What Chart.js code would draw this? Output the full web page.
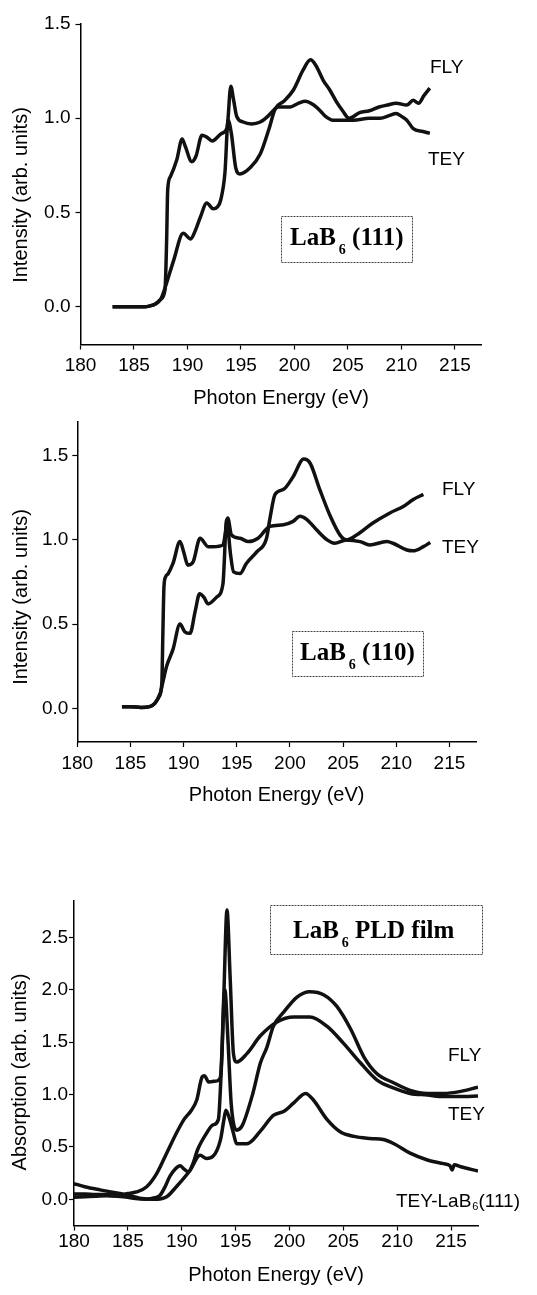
<!DOCTYPE html>
<html>
<head>
<meta charset="utf-8">
<title>LaB6 boron K-edge spectra</title>
<script src="https://cdn.jsdelivr.net/npm/chart.js@4.4.1/dist/chart.umd.min.js"></script>
<style>
  html, body { margin: 0; padding: 0; background: #fff; }
  body { width: 537px; height: 1295px; position: relative; overflow: hidden; }
  canvas { position: absolute; left: 0; }
</style>
</head>
<body>
<canvas id="c111" width="537" height="420" style="top:0"></canvas>
<canvas id="c110" width="537" height="440" style="top:420px"></canvas>
<canvas id="cFilm" width="537" height="435" style="top:860px"></canvas>

<script>
// LaB6 (111) single crystal
const tey111E = [183, 184, 185, 186, 186.5, 187, 187.5, 187.9, 188.05, 188.15, 188.4, 189.0, 189.5, 189.8, 190.4, 190.8, 191.35, 191.8, 192.3, 193.2, 193.7, 194.05, 194.3, 194.6, 195.2, 196.0, 196.8, 197.5, 198.0, 198.5, 199.6, 200.4, 201.0, 201.8, 202.4, 202.9, 203.6, 204.9, 205.5, 207.0, 208.0, 208.9, 209.5, 210.0, 210.5, 211.1, 212.0, 212.65];
const tey111I = [0.0, 0.0, 0.0, 0.0, 0.005, 0.015, 0.04, 0.09, 0.35, 0.62, 0.69, 0.78, 0.89, 0.85, 0.77, 0.80, 0.91, 0.90, 0.88, 0.92, 0.95, 1.17, 1.10, 1.01, 0.98, 0.97, 0.98, 1.01, 1.04, 1.06, 1.06, 1.08, 1.09, 1.07, 1.04, 1.01, 0.99, 0.99, 0.99, 1.0, 1.0, 1.015, 1.025, 1.01, 0.99, 0.945, 0.93, 0.92];
const fly111E = [183, 184, 185, 186, 186.5, 187.0, 187.5, 187.9, 188.7, 189.6, 190.3, 190.7, 191.2, 191.8, 192.4, 192.8, 193.1, 193.5, 193.8, 194.1, 194.5, 194.9, 195.9, 196.8, 197.6, 198.2, 199.0, 199.9, 200.8, 201.5, 202.0, 202.7, 203.3, 203.9, 204.5, 205.1, 206.1, 207.0, 207.9, 208.7, 209.5, 210.5, 211.1, 211.6, 212.1, 212.65];
const fly111I = [0.0, 0.0, 0.0, 0.0, 0.005, 0.015, 0.04, 0.10, 0.245, 0.39, 0.36, 0.40, 0.475, 0.55, 0.52, 0.53, 0.565, 0.71, 0.99, 0.92, 0.74, 0.705, 0.74, 0.81, 0.94, 1.05, 1.09, 1.15, 1.255, 1.31, 1.28, 1.20, 1.15, 1.09, 1.04, 1.0, 1.03, 1.04, 1.06, 1.07, 1.08, 1.07, 1.095, 1.08, 1.12, 1.16];

// LaB6 (110) single crystal
const tey110E = [184.2, 185, 186, 186.8, 187.3, 187.7, 187.95, 188.05, 188.15, 188.3, 188.55, 189.0, 189.66, 190.0, 190.4, 190.9, 191.55, 192.3, 192.8, 193.7, 193.95, 194.15, 194.5, 195.3, 196.1, 197.0, 198.1, 199.4, 200.3, 200.95, 201.6, 202.5, 203.5, 204.2, 205.3, 206.6, 207.5, 209.1, 209.7, 211.0, 211.6, 212.55, 213.2];
const tey110I = [0.01, 0.01, 0.005, 0.01, 0.03, 0.07, 0.15, 0.45, 0.72, 0.78, 0.80, 0.86, 0.99, 0.93, 0.85, 0.87, 1.01, 0.96, 0.96, 0.97, 1.05, 1.13, 1.03, 1.01, 0.99, 1.01, 1.08, 1.09, 1.11, 1.14, 1.12, 1.06, 1.0, 0.98, 1.0, 0.99, 0.97, 0.99, 0.98, 0.94, 0.935, 0.96, 0.985];
const fly110E = [184.2, 185, 186, 186.8, 187.3, 187.8, 188.1, 188.4, 189.0, 189.66, 190.1, 190.6, 191.1, 191.5, 191.9, 192.3, 193.1, 193.7, 194.05, 194.4, 194.7, 195.3, 195.9, 196.9, 197.8, 198.1, 198.6, 199.4, 200.3, 201.3, 201.9, 202.8, 203.8, 204.7, 205.3, 206.3, 207.8, 209.4, 210.7, 211.6, 212.55];
const fly110I = [0.01, 0.01, 0.005, 0.01, 0.03, 0.09, 0.17, 0.25, 0.35, 0.50, 0.455, 0.445, 0.58, 0.68, 0.66, 0.62, 0.66, 0.74, 1.12, 0.92, 0.81, 0.80, 0.86, 0.93, 1.01, 1.12, 1.27, 1.30, 1.375, 1.48, 1.455, 1.30, 1.14, 1.03, 1.0, 1.03, 1.10, 1.16, 1.20, 1.24, 1.27];

// LaB6 PLD film, plus TEY of the (111) crystal
const filmFlyE = [180, 181, 182, 183, 184, 185, 185.5, 186.75, 187.5, 188.0, 188.5, 188.9, 189.4, 189.85, 190.2, 190.6, 191.0, 191.5, 192.3, 192.9, 193.4, 193.7, 194.0, 194.3, 194.6, 195.1, 195.6, 196.6, 197.3, 197.9, 198.5, 199.5, 200.7, 201.9, 203.2, 204.4, 205.7, 206.9, 208.1, 209.7, 211.2, 212.8, 214.3, 215.9, 217.5];
const filmFlyA = [0.02, 0.025, 0.03, 0.035, 0.03, 0.02, 0.01, 0.0, 0.015, 0.04, 0.13, 0.22, 0.29, 0.32, 0.29, 0.26, 0.33, 0.48, 0.63, 0.71, 0.76, 1.3, 2.0, 1.5, 0.9, 0.66, 0.70, 1.01, 1.30, 1.45, 1.65, 1.79, 1.93, 1.98, 1.95, 1.84, 1.62, 1.36, 1.20, 1.11, 1.04, 1.01, 1.01, 1.03, 1.07];
const filmTeyE = [180, 181, 182, 183, 184, 185, 185.8, 186.75, 187.7, 188.6, 189.5, 190.2, 190.9, 191.4, 191.9, 192.1, 192.5, 193.3, 193.6, 193.9, 194.2, 194.5, 194.8, 195.1, 196.05, 197.3, 198.8, 200.4, 201.9, 203.5, 205.0, 206.6, 208.1, 209.7, 211.2, 212.8, 214.3, 215.9, 217.5];
const filmTeyA = [0.05, 0.05, 0.045, 0.045, 0.04, 0.055, 0.07, 0.12, 0.25, 0.44, 0.63, 0.76, 0.85, 0.95, 1.17, 1.18, 1.12, 1.13, 1.17, 1.93, 2.76, 2.1, 1.39, 1.31, 1.39, 1.56, 1.69, 1.74, 1.74, 1.65, 1.49, 1.30, 1.14, 1.06, 1.01, 0.995, 0.98, 0.98, 0.985];
const tey111FilmE = [180, 181, 182.4, 184, 185, 186.1, 187.4, 188.6, 189.5, 190.8, 191.7, 192.3, 192.9, 193.6, 193.9, 194.1, 194.4, 194.8, 195.1, 196.05, 197.3, 198.5, 199.5, 200.4, 201.5, 202.2, 203.5, 204.7, 206.0, 207.5, 208.7, 209.7, 211.2, 212.8, 214.3, 214.9, 215.1, 215.3, 215.9, 217.5];
const tey111FilmA = [0.15, 0.12, 0.09, 0.06, 0.04, 0.01, 0.0, 0.025, 0.12, 0.28, 0.42, 0.39, 0.41, 0.57, 0.75, 0.85, 0.78, 0.63, 0.53, 0.53, 0.65, 0.80, 0.84, 0.92, 1.01, 0.95, 0.76, 0.645, 0.60, 0.58, 0.57, 0.53, 0.44, 0.375, 0.34, 0.32, 0.28, 0.33, 0.31, 0.27];

const SANS = "'Liberation Sans', Arial, sans-serif";
const SERIF = "'Liberation Serif', 'Times New Roman', serif";

function toPoints(xs, ys) {
    return xs.map((x, i) => ({ x: x, y: ys[i] }));
}

// text with an optional subscript in the middle: [before, sub, after]
function drawParts(ctx, x, y, parts, font, size, subSize, subDrop, subGap) {
    ctx.font = font(size);
    ctx.fillText(parts[0], x, y);
    x += ctx.measureText(parts[0]).width;
    if (parts[1]) {
        ctx.font = font(subSize);
        ctx.fillText(parts[1], x + subGap, y + subDrop);
        x += subGap + ctx.measureText(parts[1]).width;
    }
    if (parts[2]) {
        ctx.font = font(size);
        ctx.fillText(parts[2], x, y);
    }
}

const panelText = {
    id: 'panelText',
    afterDraw(chart, args, opts) {
        const ctx = chart.ctx;
        ctx.save();
        ctx.fillStyle = '#000';
        ctx.textBaseline = 'alphabetic';
        ctx.textAlign = 'left';

        // y axis title
        ctx.save();
        ctx.translate(opts.yTitle.x, opts.yTitle.y);
        ctx.rotate(-Math.PI / 2);
        ctx.font = '20px ' + SANS;
        ctx.textAlign = 'center';
        ctx.textBaseline = 'middle';
        ctx.fillText(opts.yTitle.text, 0, 0);
        ctx.restore();

        // curve names
        opts.labels.forEach(l => {
            drawParts(ctx, l.x, l.y, l.parts, s => s + 'px ' + SANS, 19, 11, 3, 1);
        });

        // framed sample name
        const b = opts.box;
        ctx.strokeStyle = '#444';
        ctx.lineWidth = 1;
        ctx.setLineDash([2, 1]);
        ctx.strokeRect(b.x + 0.5, b.y + 0.5, b.w, b.h);
        ctx.setLineDash([]);
        drawParts(ctx, b.tx, b.ty, b.parts, s => 'bold ' + s + 'px ' + SERIF, 25, 14, 9, 3);
        ctx.restore();
    }
};

function buildPanel(id, p) {
    const canvas = document.getElementById(id);
    const H = canvas.height;
    return new Chart(canvas, {
        type: 'line',
        data: {
            datasets: p.series.map(s => ({
                data: toPoints(s[0], s[1]),
                borderColor: '#111',
                borderWidth: 3.5,
                pointRadius: 0,
                fill: false,
                cubicInterpolationMode: 'monotone'
            }))
        },
        options: {
            responsive: false,
            animation: false,
            devicePixelRatio: 1,
            layout: { padding: { left: 0, top: p.area.top, right: 537 - p.area.right, bottom: 0 } },
            plugins: {
                legend: { display: false },
                tooltip: { enabled: false },
                panelText: p.text
            },
            scales: {
                x: {
                    type: 'linear',
                    min: 180,
                    max: 217.5,
                    afterFit: s => { s.height = H - p.area.bottom; s.paddingLeft = 0; s.paddingRight = 0; },
                    ticks: {
                        stepSize: 5,
                        includeBounds: false,
                        autoSkip: false,
                        maxRotation: 0,
                        padding: p.xPad,
                        color: '#000',
                        font: { family: SANS, size: 19 },
                        callback: v => String(v)
                    },
                    grid: { drawOnChartArea: false, drawTicks: true, tickLength: 5, tickColor: '#000', tickWidth: 1.2 },
                    border: { display: true, color: '#000', width: 1.5 },
                    title: {
                        display: true,
                        text: 'Photon Energy (eV)',
                        color: '#000',
                        font: { family: SANS, size: 20 },
                        padding: { top: 0, bottom: p.xTitlePad }
                    }
                },
                y: {
                    min: p.yMin,
                    max: p.yMax,
                    afterFit: s => { s.width = p.area.left; s.paddingTop = 0; s.paddingBottom = 0; },
                    ticks: {
                        stepSize: 0.5,
                        includeBounds: false,
                        padding: p.yPad,
                        color: '#000',
                        font: { family: SANS, size: 19 },
                        callback: v => v.toFixed(1)
                    },
                    grid: { drawOnChartArea: false, drawTicks: true, tickLength: 5, tickColor: '#000', tickWidth: 1.2 },
                    border: { display: true, color: '#000', width: 1.5 }
                }
            }
        },
        plugins: [panelText]
    });
}

buildPanel('c111', {
    series: [[tey111E, tey111I], [fly111E, fly111I]],
    area: { left: 80.5, right: 481.7, top: 24, bottom: 344.5 },
    yMin: -0.2, yMax: 1.5,
    xPad: 5, yPad: 5, xTitlePad: 10,
    text: {
        yTitle: { text: 'Intensity (arb. units)', x: 21, y: 195 },
        labels: [
            { x: 430, y: 73, parts: ['FLY'] },
            { x: 428, y: 165, parts: ['TEY'] }
        ],
        box: { x: 281, y: 216, w: 131, h: 46, tx: 290, ty: 245, parts: ['LaB', '6', ' (111)'] }
    }
});

buildPanel('c110', {
    series: [[tey110E, tey110I], [fly110E, fly110I]],
    area: { left: 77.3, right: 476, top: 2, bottom: 322 },
    yMin: -0.2, yMax: 1.7,
    xPad: 5, yPad: 4, xTitlePad: 53,
    text: {
        yTitle: { text: 'Intensity (arb. units)', x: 21.5, y: 177 },
        labels: [
            { x: 442, y: 75, parts: ['FLY'] },
            { x: 442, y: 133, parts: ['TEY'] }
        ],
        box: { x: 292, y: 211, w: 131, h: 45, tx: 300, ty: 240, parts: ['LaB', '6', ' (110)'] }
    }
});

buildPanel('cFilm', {
    series: [[filmFlyE, filmFlyA], [filmTeyE, filmTeyA], [tey111FilmE, tey111FilmA]],
    area: { left: 74, right: 478, top: 40.6, bottom: 365.5 },
    yMin: -0.25, yMax: 2.85,
    xPad: 0, yPad: 1, xTitlePad: 8,
    text: {
        yTitle: { text: 'Absorption (arb. units)', x: 20, y: 212 },
        labels: [
            { x: 448, y: 201, parts: ['FLY'] },
            { x: 448, y: 260, parts: ['TEY'] },
            { x: 396, y: 347, parts: ['TEY-LaB', '6', '(111)'] }
        ],
        box: { x: 270, y: 45, w: 212, h: 49, tx: 293, ty: 78, parts: ['LaB', '6', ' PLD film'] }
    }
});
</script>
</body>
</html>
